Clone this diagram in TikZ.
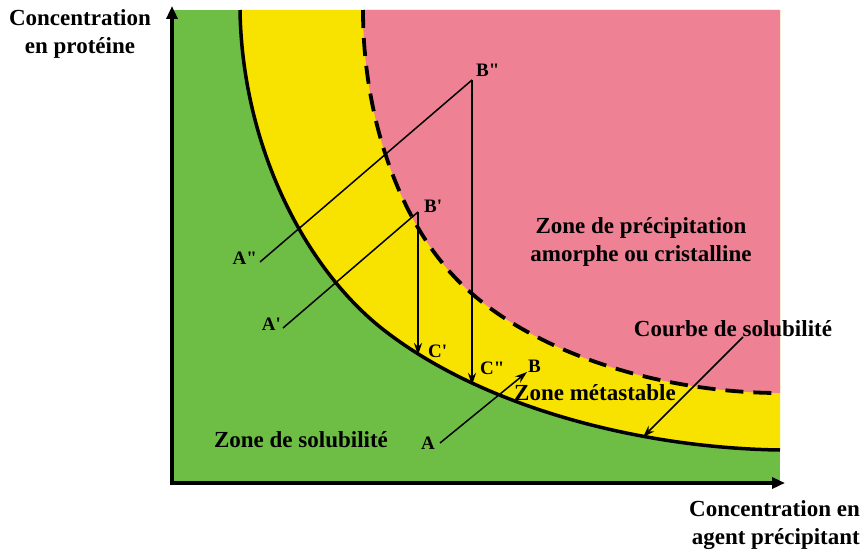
\documentclass[tikz,border=0pt]{standalone}
\usepackage{fontspec}
\setmainfont{Liberation Serif}
\usetikzlibrary{arrows.meta}
\definecolor{zgreen}{RGB}{110,190,70}
\definecolor{zyellow}{RGB}{248,226,0}
\definecolor{zpink}{RGB}{238,130,148}
\tikzset{
  big/.style={font=\bfseries\fontsize{23}{28}\selectfont, inner sep=0pt, align=center},
  lab/.style={font=\bfseries\fontsize{19}{22}\selectfont, inner sep=0pt},
  axis/.style={line width=4pt, -{Triangle[length=13pt,width=11pt]}},
  thin/.style={line width=1.5pt},
  thinarrow/.style={line width=1.5pt, -{Stealth[length=12pt,width=8pt]}},
  solcurve/.style={line width=3.5pt},
  metacurve/.style={line width=3.8pt, dash pattern=on 18pt off 10pt}
}
\begin{document}
\begin{tikzpicture}[x=1pt,y=-1pt]
\useasboundingbox (0,0) rectangle (864,551);
% curve end points
\coordinate (s0) at (240,10);
\coordinate (s1) at (380,327);
\coordinate (s2) at (780,450);
\coordinate (d0) at (363,10);
\coordinate (d1) at (440,260);
\coordinate (d2) at (780,393);
\coordinate (TR) at (780,10);
% zones
\fill[zgreen] (172,10) rectangle (780,483);
\fill[zyellow] (s0) .. controls (242,140) and (300,262) .. (s1)
  .. controls (480,407) and (640,448) .. (s2) -- (TR) -- cycle;
\fill[zpink] (d0) .. controls (363,120) and (400,210) .. (d1)
  .. controls (505,345) and (650,393) .. (d2) -- (TR) -- cycle;
% curves
\draw[solcurve] (s0) .. controls (242,140) and (300,262) .. (s1)
  .. controls (480,407) and (640,448) .. (s2);
\draw[metacurve] (d0) .. controls (363,120) and (400,210) .. (d1)
  .. controls (505,345) and (650,393) .. (d2);
% axes
\coordinate (ybot) at (172,485);
\coordinate (ytop) at (172,6);
\coordinate (xbeg) at (170,483);
\coordinate (xend) at (785,483);
\draw[axis] (ybot) -- (ytop);
\draw[axis] (xbeg) -- (xend);
% points
\coordinate (App) at (260,262);
\coordinate (Bpp) at (472,80);
\coordinate (Cpp) at (472,385);
\coordinate (Ap) at (283,328);
\coordinate (Bp) at (418,212);
\coordinate (Cp) at (418,355);
\coordinate (A) at (440,443);
\coordinate (B) at (527,372);
\coordinate (Cs) at (743,337);
\coordinate (Cstip) at (643,437);
\draw[thin] (App) -- (Bpp);
\draw[thinarrow] (Bpp) -- (Cpp);
\draw[thin] (Ap) -- (Bp);
\draw[thinarrow] (Bp) -- (Cp);
\draw[thinarrow] (A) -- (B);
\draw[thinarrow] (Cs) -- (Cstip);
% point labels
\node[lab, anchor=west] (lBpp) at (476,70) {B\textquotedbl};
\node[lab, anchor=west] (lBp) at (424,206) {B\textquotesingle};
\node[lab, anchor=east] (lApp) at (257,258) {A\textquotedbl};
\node[lab, anchor=east] (lAp) at (281,324) {A\textquotesingle};
\node[lab, anchor=west] (lCp) at (428,351) {C\textquotesingle};
\node[lab, anchor=west] (lCpp) at (480,368) {C\textquotedbl};
\node[lab, anchor=west] (lB) at (528,366) {B};
\node[lab] (lA) at (428,443) {A};
% zone labels
\node[big] (zprec) at (641,242) {Zone de précipitation\\amorphe ou cristalline};
\node[big] (zmeta) at (595,393) {Zone métastable};
\node[big] (zsol) at (301,440) {Zone de solubilité};
\node[big] (courbe) at (733,329) {Courbe de solubilité};
\node[big] (yl) at (80,34) {Concentration\\en protéine};
\node[big, anchor=east, align=right] (xl) at (860,525) {Concentration en\\agent précipitant};
\end{tikzpicture}
\end{document}
